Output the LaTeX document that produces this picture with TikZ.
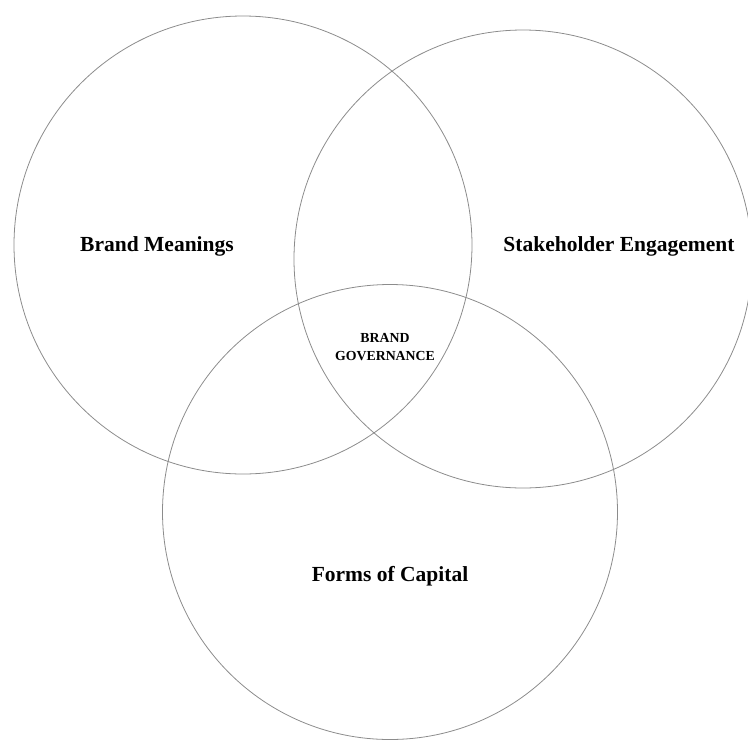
\documentclass[tikz,border=0pt]{standalone}
\usepackage{fontspec}
\setmainfont{Liberation Serif}
\begin{document}
\begin{tikzpicture}[x=1pt,y=-1pt,
  ring/.style={draw=black!45,line width=0.8pt},
  lbl/.style={font=\bfseries\fontsize{21.5}{24}\selectfont,inner sep=0pt},
  small/.style={font=\bfseries\fontsize{13.8}{18}\selectfont,inner sep=0pt,align=center}]
\useasboundingbox (0,0) rectangle (748,740);
\draw[ring] (243,245) circle[radius=229] coordinate (c1);
\draw[ring] (523,259) circle[radius=229] coordinate (c2);
\draw[ring] (390,512) circle[radius=227.5] coordinate (c3);
\node[lbl] (bm) at (157,246) {Brand Meanings};
\node[lbl] (se) at (619,246) {Stakeholder Engagement};
\node[lbl] (fc) at (390,576) {Forms of Capital};
\node[small] (bg) at (385,347) {BRAND\\GOVERNANCE};
\end{tikzpicture}
\end{document}
